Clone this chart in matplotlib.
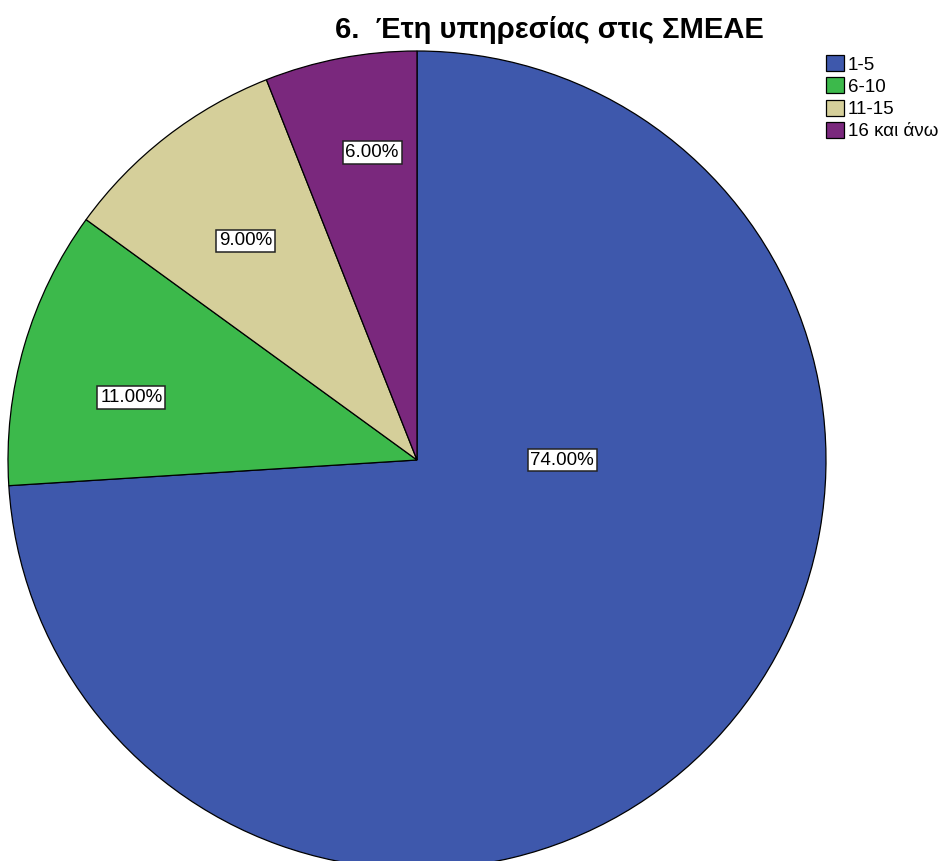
import matplotlib
matplotlib.use("Agg")
import matplotlib.pyplot as plt
import numpy as np
from matplotlib.patches import Patch

plt.rcParams['font.family'] = ['Liberation Sans', 'DejaVu Sans']

# data
categories = ['1-5', '6-10', '11-15', '16 και άνω']
percents = [74.0, 11.0, 9.0, 6.0]
colors = ['#3e58ac', '#3cb94b', '#d5cf9a', '#7a287d']
title = '6.  Έτη υπηρεσίας στις ΣΜΕΑΕ'

fig = plt.figure(figsize=(9.47, 8.61), dpi=100)
W, H = 947, 861
cx, cy, r = 417, 861 - 460, 409
ax = fig.add_axes([(cx - r) / W, (cy - r) / H, 2 * r / W, 2 * r / H])

wedges, texts, autotexts = ax.pie(
    percents, colors=colors, startangle=90, counterclock=False,
    autopct='%1.2f%%', pctdistance=0.72,
    wedgeprops=dict(edgecolor='black', linewidth=0.9),
    textprops=dict(fontsize=13.5, color='black'),
)
ax.set_xlim(-1, 1)
ax.set_ylim(-1, 1)
ax.set_aspect('equal')
ax.axis('off')

for t in autotexts:
    t.set_bbox(dict(facecolor='white', edgecolor='#222222', boxstyle='square,pad=0.15', linewidth=1.1))

# label positions (polar: distance from centre as fraction of radius, angle in degrees)
label_pos = [(0.355, 0.0), (0.715, 167.7), (0.68, 128.0), (0.76, 98.3)]
for t, (d, a) in zip(autotexts, label_pos):
    t.set_position((d * np.cos(np.radians(a)), d * np.sin(np.radians(a))))

fig.text(549 / W, 1 - 30 / H, title, ha='center', va='center', fontsize=21, fontweight='bold')

handles = [Patch(facecolor=c, edgecolor='black', linewidth=0.9) for c in colors]
fig.legend(handles, categories, loc='upper left', bbox_to_anchor=(826 / W, 1 - 55 / H),
           frameon=False, fontsize=13.5, handlelength=0.95, handleheight=0.95,
           handletextpad=0.2, labelspacing=0.2, borderpad=0.0, borderaxespad=0.0)

fig.savefig('out.png', dpi=100, facecolor='white')
